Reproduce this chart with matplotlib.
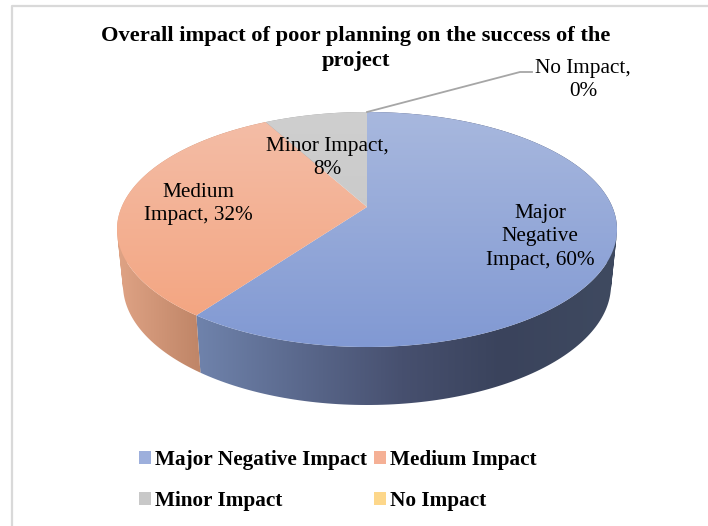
import matplotlib
matplotlib.use("Agg")
import matplotlib.pyplot as plt
import numpy as np
from matplotlib.colors import LinearSegmentedColormap
from matplotlib.patches import Patch, PathPatch, Polygon
from matplotlib.path import Path

plt.rcParams["font.family"] = ["Liberation Serif", "DejaVu Serif"]

# ── Data ──────────────────────────────────────────────────────────────────────
categories = ["Major Negative Impact", "Medium Impact", "Minor Impact", "No Impact"]
values = [60, 32, 8, 0]
title_lines = ["Overall impact of poor planning on the success of the", "project"]

legend_colors = ["#9dafdc", "#f5b095", "#c8c8c8", "#fdd78a"]
top_colors = [("#a8b8de", "#8199d3"), ("#f3bea8", "#f4a27c"), ("#cfcfcf", "#c4c4c4")]
side_colors = [
    [(0, "#7f93bd"), (0.15, "#7084ad"), (0.37, "#5a688c"), (0.57, "#47506f"),
     (0.77, "#3a435c"), (1, "#3f4a60")],
    [(0, "#dfa385"), (0.16, "#c08668"), (1, "#c08668")],
    [(0, "#999999"), (1, "#999999")],
]

# Where a pie label's centre sits, in pixels
label_pos = [(540, 237), (198, 204), (327, 158), (583, 80)]
label_text = [
    "Major\nNegative\nImpact, 60%",
    "Medium\nImpact, 32%",
    "Minor Impact,\n8%",
    "No Impact,\n0%",
]

# ── Pie geometry (pixels, tilted disc with perspective) ───────────────────────
CX = 367
TOP_CY, TOP_A, TOP_B = 229.5, 250, 117.5
LOW_CY, LOW_A, LOW_B = 285, 244, 120
PERSP = 0.1915
APEX_SHIFT = 22.5 / 117.5


def disc_point(frac, cy, a, b):
    """Map a clockwise-from-top pie fraction to a pixel on the tilted disc."""
    t = np.asarray(frac) * 2 * np.pi
    u, v = np.sin(t), np.cos(t)
    w = 1 + PERSP * v
    x = CX + a * np.sqrt(1 - PERSP ** 2) * u / w
    y = cy - b * (v + APEX_SHIFT) / w
    return x, y


def gradient(ax, clip, stops, extent, vertical=False, zorder=2):
    cmap = LinearSegmentedColormap.from_list("g", stops)
    ramp = np.linspace(0, 1, 256)
    ramp = ramp[:, None] if vertical else ramp[None, :]
    im = ax.imshow(ramp, cmap=cmap, extent=extent, aspect="auto", origin="upper",
                   interpolation="bilinear", zorder=zorder)
    clip.set_transform(ax.transData)
    im.set_clip_path(clip)


def rim_path(tx, ty, lx, ly):
    """Strip of quads between the arcs. All wound one way or overlaps turn into holes."""
    verts, codes = [], []
    for k in range(len(tx) - 1):
        quad = [(tx[k], ty[k]), (tx[k + 1], ty[k + 1]), (lx[k + 1], ly[k + 1]), (lx[k], ly[k])]
        px, py = np.array(quad).T
        if np.dot(px, np.roll(py, -1)) - np.dot(py, np.roll(px, -1)) < 0:
            quad = quad[::-1]
        verts += quad + [quad[0]]
        codes += [Path.MOVETO, Path.LINETO, Path.LINETO, Path.LINETO, Path.CLOSEPOLY]
    return PathPatch(Path(verts, codes))


fig = plt.figure(figsize=(7.08, 5.26), dpi=100)
ax = fig.add_axes([0, 0, 1, 1])
ax.axis("off")

# Outer chart frame, only top and left are visible in the crop
ax.plot([12, 12, 708], [526, 6, 6], color="#d9d9d9", linewidth=1.6, zorder=1)

fractions = np.cumsum([0] + values) / sum(values)

for i, val in enumerate(values):
    if val == 0:
        continue
    f = np.linspace(fractions[i], fractions[i + 1], 200)
    tx, ty = disc_point(f, TOP_CY, TOP_A, TOP_B)
    lx, ly = disc_point(f, LOW_CY, LOW_A, LOW_B)

    # Rim first, the top face then hides its far side
    gradient(ax, rim_path(tx, ty, lx, ly), side_colors[i], (117, 617, 410, 110), zorder=2)

    face_x = np.r_[CX, tx]
    face_y = np.r_[TOP_CY - TOP_B * APEX_SHIFT, ty]
    face = Polygon(np.column_stack([face_x, face_y]))
    gradient(ax, face, top_colors[i], (117, 617, 347, 112), vertical=True, zorder=3)

# Leader line for the zero slice
lead_x, lead_y = disc_point(0.0, TOP_CY, TOP_A, TOP_B)
ax.plot([lead_x, 520, 532], [lead_y, 72, 72], color="#a6a6a6", linewidth=1.3, zorder=4)

for (x, y), txt in zip(label_pos, label_text):
    ax.text(x, y, txt, ha="center", va="center", fontsize=15.3, color="black",
            linespacing=1.32, zorder=5)

# Two separate lines, the title box would otherwise run under the No Impact label
for line, y in zip(title_lines, [36, 61]):
    ax.text(356, y, line, ha="center", va="center", fontsize=16.2, fontweight="bold",
            color="black", zorder=5)

# ncol fills by column, so the order below gives Major | Medium on the first row
order = [0, 2, 1, 3]
handles = [Patch(facecolor=legend_colors[j], edgecolor="none") for j in order]
ax.legend(
    handles, [categories[j] for j in order],
    ncol=2, frameon=False, loc="upper left",
    bbox_to_anchor=(139 / 708, 1 - 450 / 526),
    prop={"weight": "bold", "size": 15.3},
    handlelength=0.57, handleheight=0.57, handletextpad=0.2,
    columnspacing=0.3, labelspacing=0.98, borderpad=0, borderaxespad=0,
)

ax.set_xlim(0, 708)
ax.set_ylim(526, 0)
fig.savefig("out.png", dpi=100)
